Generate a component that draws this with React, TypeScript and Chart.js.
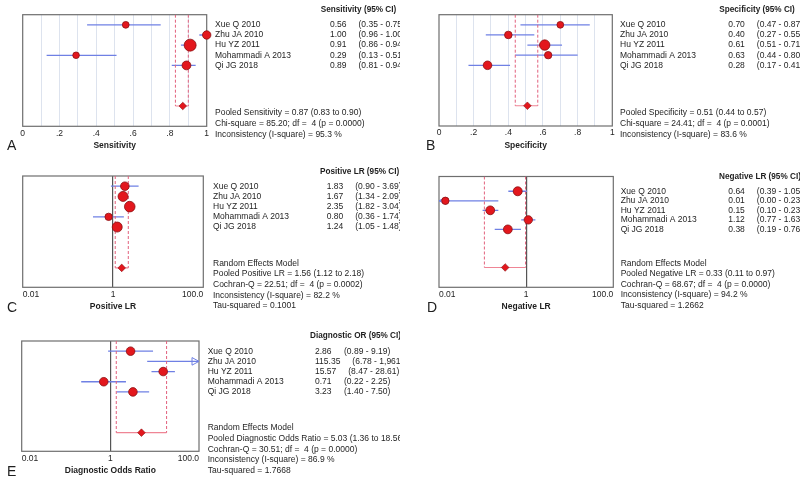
import React, { useEffect, useRef } from "react";
import { Chart, registerables } from "chart.js";
Chart.register(...registerables);

// ---------------- data ----------------
const studies = ["Xue Q 2010", "Zhu JA 2010", "Hu YZ 2011", "Mohammadi A 2013", "Qi JG 2018"];

const sensEst = [0.56, 1.0, 0.91, 0.29, 0.89];
const sensLo = [0.35, 0.96, 0.86, 0.13, 0.81];
const sensHi = [0.75, 1.0, 0.94, 0.51, 0.94];
const sensPooled = [0.87, 0.83, 0.9];
const sensHet = [85.2, 4, 0.0, 95.3];

const specEst = [0.7, 0.4, 0.61, 0.63, 0.28];
const specLo = [0.47, 0.27, 0.51, 0.44, 0.17];
const specHi = [0.87, 0.55, 0.71, 0.8, 0.41];
const specPooled = [0.51, 0.44, 0.57];
const specHet = [24.41, 4, 0.0001, 83.6];

const plrEst = [1.83, 1.67, 2.35, 0.8, 1.24];
const plrLo = [0.9, 1.34, 1.82, 0.36, 1.05];
const plrHi = [3.69, 2.09, 3.04, 1.74, 1.48];
const plrPooled = [1.56, 1.12, 2.18];
const plrHet = [22.51, 4, 0.0002, 82.2, 0.1001];

const nlrEst = [0.64, 0.014, 0.15, 1.12, 0.38];
const nlrLo = [0.39, 0.003, 0.1, 0.77, 0.19];
const nlrHi = [1.05, 0.23, 0.23, 1.63, 0.76];
const nlrPooled = [0.33, 0.11, 0.97];
const nlrHet = [68.67, 4, 0.0, 94.2, 1.2662];

const dorEst = [2.86, 115.35, 15.57, 0.71, 3.23];
const dorLo = [0.89, 6.78, 8.47, 0.22, 1.4];
const dorHi = [9.19, 1961.61, 28.61, 2.25, 7.5];
const dorPooled = [5.03, 1.36, 18.56];
const dorHet = [30.51, 4, 0.0, 86.9, 1.7668];

const propTickValues = [0, 0.1, 0.2, 0.3, 0.4, 0.5, 0.6, 0.7, 0.8, 0.9, 1];
const propTickLabels = ["0", "", ".2", "", ".4", "", ".6", "", ".8", "", "1"];
const ratioTickValues = [0.01, 1, 100];
const ratioTickLabels = ["0.01", "1", "100.0"];

// ---------------- helpers ----------------
const FONT = '"Liberation Sans", Arial, sans-serif';
const RED = "#e3171d";
const DARKRED = "#8a0f12";
const BLUE = "#6f80e4";
const PINK = "#e2607c";
const PINK2 = "#ef8595";
const TEXT = "#1e1e1e";
const AXIS_H = 22.4;

const f2 = (v: number) =>
  v.toLocaleString("en-US", { minimumFractionDigits: 2, maximumFractionDigits: 2 });

const propStats = (label: string, p: number[], h: number[]) => [
  `Pooled ${label} = ${f2(p[0])} (${f2(p[1])} to ${f2(p[2])})`,
  `Chi-square = ${h[0].toFixed(2)}; df =  ${h[1]} (p = ${h[2].toFixed(4)})`,
  `Inconsistency (I-square) = ${h[3].toFixed(1)} %`,
];
const ratioStats = (label: string, p: number[], h: number[]) => [
  "Random Effects Model",
  `Pooled ${label} = ${f2(p[0])} (${f2(p[1])} to ${f2(p[2])})`,
  `Cochran-Q = ${h[0].toFixed(2)}; df =  ${h[1]} (p = ${h[2].toFixed(4)})`,
  `Inconsistency (I-square) = ${h[3].toFixed(1)} %`,
  `Tau-squared = ${h[4].toFixed(4)}`,
];

type Panel = any;

const panels: Panel[] = [
  {
    key: "A", letter: "A", letterX: 7, letterY: 150,
    cv: { x: 0, y: 0, w: 400, h: 155 },
    box: { l: 22.7, r: 206.7, t: 14.7, b: 128.3 },
    yMin: 0, yMax: 11, log: false, xMin: 0, xMax: 1,
    tickValues: propTickValues, tickLabels: propTickLabels,
    est: sensEst, lo: sensLo, hi: sensHi, pooled: sensPooled,
    radii: [3.4, 4.2, 6, 3.3, 4.4],
    header: "Sensitivity (95% CI)", headerX: 320.7, headerY: 10,
    namesX: 215, valX: 330, ciX: 355.3,
    stats: propStats("Sensitivity", sensPooled, sensHet), statsY: 112.7, statsStep: 11,
    title: "Sensitivity",
  },
  {
    key: "B", letter: "B", letterX: 426, letterY: 150,
    cv: { x: 400, y: 0, w: 400, h: 155 },
    box: { l: 439, r: 612.3, t: 14.7, b: 128 },
    yMin: 0, yMax: 11, log: false, xMin: 0, xMax: 1,
    tickValues: propTickValues, tickLabels: propTickLabels,
    est: specEst, lo: specLo, hi: specHi, pooled: specPooled,
    radii: [3.4, 3.8, 5.2, 3.7, 4.3],
    header: "Specificity (95% CI)", headerX: 719.3, headerY: 10,
    namesX: 620, valX: 728.3, ciX: 752.3,
    stats: propStats("Specificity", specPooled, specHet), statsY: 112.3, statsStep: 11,
    title: "Specificity",
  },
  {
    key: "C", letter: "C", letterX: 7, letterY: 312,
    cv: { x: 0, y: 155, w: 400, h: 160 },
    box: { l: 22.7, r: 203.3, t: 176, b: 289.3 },
    yMin: 0, yMax: 10.9, log: true, xMin: 0.01, xMax: 100,
    tickValues: ratioTickValues, tickLabels: ratioTickLabels,
    est: plrEst, lo: plrLo, hi: plrHi, pooled: plrPooled,
    radii: [4.3, 5, 5.3, 3.7, 5],
    header: "Positive LR (95% CI)", headerX: 320, headerY: 171.7,
    namesX: 213, valX: 326.7, ciX: 350,
    stats: ratioStats("Positive LR", plrPooled, plrHet), statsY: 263.3, statsStep: 10.7,
    title: "Positive LR",
  },
  {
    key: "D", letter: "D", letterX: 427, letterY: 312,
    cv: { x: 400, y: 155, w: 400, h: 160 },
    box: { l: 439, r: 613.3, t: 176.5, b: 289.3 },
    yMin: -0.55, yMax: 11.08, log: true, xMin: 0.01, xMax: 100,
    tickValues: ratioTickValues, tickLabels: ratioTickLabels,
    est: nlrEst, lo: nlrLo, hi: nlrHi, pooled: nlrPooled,
    radii: [4.5, 3.7, 4.4, 4.2, 4.4],
    header: "Negative LR (95% CI)", headerX: 719, headerY: 176.7,
    namesX: 620.7, valX: 728.3, ciX: 749.3,
    stats: ratioStats("Negative LR", nlrPooled, nlrHet), statsY: 263.3, statsStep: 10.5,
    title: "Negative LR",
  },
  {
    key: "E", letter: "E", letterX: 7, letterY: 476,
    cv: { x: 0, y: 315, w: 400, h: 164 },
    box: { l: 21.7, r: 199, t: 341, b: 453.3 },
    yMin: 0, yMax: 10.83, log: true, xMin: 0.01, xMax: 100,
    tickValues: ratioTickValues, tickLabels: ratioTickLabels,
    est: dorEst, lo: dorLo, hi: dorHi, pooled: dorPooled,
    radii: [4.3, 4.3, 4.3, 4.3, 4.3],
    header: "Diagnostic OR (95% CI)", headerX: 310, headerY: 336,
    namesX: 207.7, valX: 315, ciX: 344,
    stats: ratioStats("Diagnostic Odds Ratio", dorPooled, dorHet), statsY: 427.7, statsStep: 10.75,
    title: "Diagnostic Odds Ratio",
  },
];

function makePlugin(p: Panel) {
  return {
    id: "forest" + p.key,
    beforeDatasetsDraw(chart: any) {
      const ctx = chart.ctx;
      const ca = chart.chartArea;
      const xs = chart.scales.x;
      const ys = chart.scales.y;
      ctx.save();
      ctx.strokeStyle = "#6e6e6e";
      ctx.lineWidth = 1.2;
      ctx.strokeRect(ca.left, ca.top, ca.right - ca.left, ca.bottom - ca.top);
      // arrows for intervals running off the axis
      ctx.strokeStyle = BLUE;
      ctx.fillStyle = "#ffffff";
      ctx.lineWidth = 1;
      p.lo.forEach((lo: number, i: number) => {
        const y = ys.getPixelForValue(i + 1);
        if (lo < p.xMin) {
          const tip = xs.getPixelForValue(p.xMin);
          ctx.beginPath();
          ctx.moveTo(tip, y);
          ctx.lineTo(tip + 7, y - 3.6);
          ctx.lineTo(tip + 7, y + 3.6);
          ctx.closePath();
          ctx.fill();
          ctx.stroke();
        }
        if (p.hi[i] > p.xMax) {
          const tip = xs.getPixelForValue(p.xMax);
          ctx.beginPath();
          ctx.moveTo(tip, y);
          ctx.lineTo(tip - 7, y - 3.8);
          ctx.lineTo(tip - 7, y + 3.8);
          ctx.closePath();
          ctx.fill();
          ctx.stroke();
        }
      });
      ctx.restore();
    },
    afterDraw(chart: any) {
      const ctx = chart.ctx;
      const ys = chart.scales.y;
      const ox = p.cv.x;
      const oy = p.cv.y;
      ctx.save();
      ctx.fillStyle = TEXT;
      ctx.textAlign = "left";
      ctx.textBaseline = "middle";
      ctx.font = `bold 8.2px ${FONT}`;
      ctx.fillText(p.header, p.headerX - ox, p.headerY - oy);
      ctx.font = `8.5px ${FONT}`;
      studies.forEach((s, i) => {
        const y = ys.getPixelForValue(i + 1);
        ctx.fillText(s, p.namesX - ox, y);
        const v = f2(p.est[i]);
        ctx.fillText(v, p.valX - ox, y);
        const vw = ctx.measureText(v).width;
        const cx = Math.max(p.ciX - ox, p.valX - ox + vw + 12);
        ctx.fillText(`(${f2(p.lo[i])} - ${f2(p.hi[i])})`, cx, y);
      });
      p.stats.forEach((line: string, k: number) => {
        ctx.fillText(line, p.namesX - ox, p.statsY + k * p.statsStep - oy);
      });
      ctx.font = `14px ${FONT}`;
      ctx.textBaseline = "alphabetic";
      ctx.fillText(p.letter, p.letterX - ox, p.letterY - oy);
      ctx.restore();
    },
  };
}

function buildConfig(p: Panel): any {
  const rows = p.est.map((_: number, i: number) => i + 1);
  const pooledRow = 9;
  const datasets: any[] = [];
  datasets.push({
    type: "scatter",
    data: p.est.map((v: number, i: number) => ({ x: v, y: rows[i] })),
    pointRadius: p.est.map((v: number, i: number) => (v > p.xMax || v < p.xMin * 0.999 ? 0 : p.radii[i])),
    backgroundColor: RED,
    borderColor: DARKRED,
    borderWidth: 0.8,
    clip: false,
    order: 0,
  });
  datasets.push({
    type: "scatter",
    data: [{ x: p.pooled[0], y: pooledRow }],
    pointStyle: "rectRot",
    pointRadius: 3.8,
    backgroundColor: RED,
    borderColor: DARKRED,
    borderWidth: 0.6,
    clip: false,
    order: 1,
  });
  [p.pooled[1], p.pooled[2]].forEach((v: number) =>
    datasets.push({
      type: "line",
      data: [
        { x: v, y: p.yMin },
        { x: v, y: pooledRow },
      ],
      borderColor: PINK,
      borderWidth: 1,
      borderDash: [3, 2],
      pointRadius: 0,
      order: 2,
    })
  );
  datasets.push({
    type: "line",
    data: [
      { x: p.pooled[1], y: pooledRow },
      { x: p.pooled[2], y: pooledRow },
    ],
    borderColor: PINK2,
    borderWidth: 1.2,
    pointRadius: 0,
    order: 2,
  });
  p.lo.forEach((lo: number, i: number) =>
    datasets.push({
      type: "line",
      data: [
        { x: lo, y: rows[i] },
        { x: p.hi[i], y: rows[i] },
      ],
      borderColor: BLUE,
      borderWidth: 1.3,
      pointRadius: 0,
      order: 3,
    })
  );

  const padding = {
    left: p.box.l - p.cv.x,
    right: p.cv.x + p.cv.w - p.box.r,
    top: p.box.t - p.cv.y,
    bottom: p.cv.y + p.cv.h - p.box.b - AXIS_H,
  };

  return {
    type: "scatter",
    data: { datasets },
    plugins: [makePlugin(p)],
    options: {
      responsive: false,
      animation: false,
      events: [],
      devicePixelRatio: 1,
      layout: { padding, autoPadding: false },
      plugins: { legend: { display: false }, tooltip: { enabled: false }, title: { display: false } },
      scales: {
        x: {
          type: p.log ? "logarithmic" : "linear",
          min: p.xMin,
          max: p.xMax,
          afterBuildTicks: (s: any) => {
            s.ticks = p.tickValues.map((v: number) => ({ value: v }));
          },
          ticks: {
            autoSkip: false,
            maxRotation: 0,
            minRotation: 0,
            padding: 2,
            align: p.log ? "inner" : "center",
            font: { family: FONT, size: 8.5 },
            color: TEXT,
            callback: (_v: any, idx: number) => p.tickLabels[idx],
          },
          grid: {
            display: true,
            drawTicks: false,
            lineWidth: p.log ? 1.2 : 1,
            color: (c: any) => {
              const v = c.tick ? c.tick.value : 0;
              if (p.log) return Math.abs(v - 1) < 1e-9 ? "#555555" : "rgba(0,0,0,0)";
              return v > 0.001 && v < 0.999 ? "#dde3ee" : "rgba(0,0,0,0)";
            },
          },
          border: { display: false },
          title: {
            display: true,
            text: p.title,
            color: TEXT,
            padding: 0,
            font: { family: FONT, size: 8.5, weight: "bold" },
          },
        },
        y: { type: "linear", reverse: true, min: p.yMin, max: p.yMax, display: false },
      },
    },
  };
}

function ForestPanel({ p }: { p: Panel }) {
  const ref = useRef<HTMLCanvasElement | null>(null);
  useEffect(() => {
    if (!ref.current) return;
    const chart = new Chart(ref.current, buildConfig(p));
    return () => chart.destroy();
  }, [p]);
  return (
    <canvas
      ref={ref}
      width={p.cv.w}
      height={p.cv.h}
      style={{ position: "absolute", left: p.cv.x, top: p.cv.y, width: p.cv.w, height: p.cv.h }}
    />
  );
}

export default function App() {
  return (
    <div style={{ position: "absolute", left: 0, top: 0, width: 800, height: 479, background: "#ffffff", overflow: "hidden" }}>
      {panels.map((p) => (
        <ForestPanel key={p.key} p={p} />
      ))}
    </div>
  );
}
